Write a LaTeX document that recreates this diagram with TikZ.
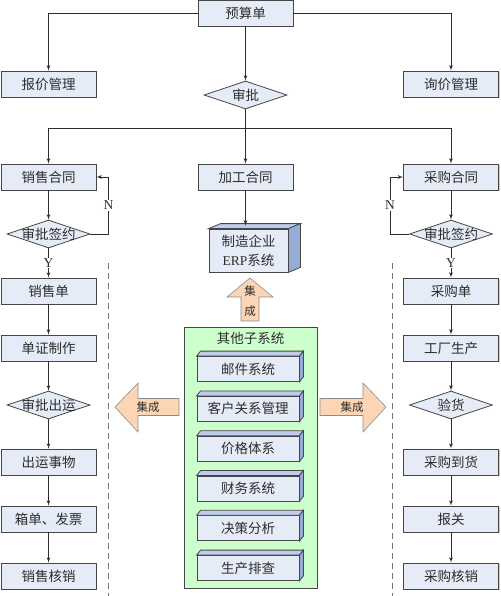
\documentclass[tikz,border=0pt]{standalone}
\usepackage{fontspec}
\setmainfont{Liberation Serif}
\newfontfamily\cjk{Noto Sans CJK SC}
\usetikzlibrary{arrows,shapes.geometric,shadows}

\definecolor{boxfill}{RGB}{229,235,247}
\definecolor{boxline}{RGB}{70,70,70}
\definecolor{facetop}{RGB}{190,205,235}
\definecolor{faceside}{RGB}{150,172,215}
\definecolor{subgreen}{RGB}{204,255,204}
\definecolor{peach}{RGB}{252,213,181}
\definecolor{peachline}{RGB}{140,140,140}
\definecolor{ink}{RGB}{45,45,45}

\newcommand{\boxfont}{\cjk\fontsize{13.5}{15}\selectfont}

\begin{document}
\begin{tikzpicture}[x=1pt,y=-1pt,->,>=latex',line width=0.8pt,color=ink,node distance=57pt,
  box/.style={rectangle,draw=boxline,fill=boxfill,text=ink,minimum width=95pt,minimum height=26pt,
    inner sep=0pt,font=\boxfont,drop shadow={shadow xshift=1pt,shadow yshift=-1pt,fill=black!40}},
  decide/.style={diamond,draw=boxline,fill=boxfill,minimum width=83pt,minimum height=28pt,inner sep=0pt},
  every label/.style={font=\boxfont,text=ink,inner sep=0pt},
  yn/.style={fill=white,inner sep=1pt,text=ink,font=\fontsize{13.5}{15}\selectfont},
  erpbox/.style={rectangle,draw=boxline,fill=boxfill,text=ink,minimum width=79pt,minimum height=43pt,
    inner sep=0pt,align=center,font=\cjk\fontsize{13.5}{19}\selectfont},
  subbox/.style={rectangle,draw=boxline,fill=boxfill,text=ink,minimum width=102pt,minimum height=25pt,
    inner sep=0pt,font=\boxfont,node distance=39.8pt},
  othersbox/.style={rectangle,draw=boxline,fill=subgreen,minimum width=133pt,minimum height=261pt},
  bigarrow/.style={-,draw=peachline,fill=peach,line width=0.6pt},
  arrowtext/.style={text=ink,inner sep=0pt,font=\cjk\fontsize{11.5}{20}\selectfont,align=center},
  dashline/.style={-,draw=black!55,dash pattern=on 6pt off 4pt,line width=0.8pt}]

 \useasboundingbox (0,0) rectangle (500,596);

 % top part
 \node[box] (budget)  at (245.5,13) {预算单};
 \node[box] (quote)   at (48.5,84)  {报价管理};
 \node[box] (inquiry) at (451,84)   {询价管理};
 \node[decide,label=center:审批] (approve) at (245.5,95) {};
 \coordinate (split) at (245.5,128);

 \node[box] (sales)    at (48.5,177)  {销售合同};
 \node[box] (process)  at (245.5,177) {加工合同};
 \node[box] (purchase) at (451,177)   {采购合同};

 % sales column
 \node[decide,label=center:审批签约] (signL) [below of=sales] {};
 \node[box] (salesorder) [below of=signL]      {销售单};
 \node[box] (docs)       [below of=salesorder] {单证制作};
 \node[decide,label=center:审批出运] (shipok) [below of=docs] {};
 \node[box] (shipping)   [below of=shipok]     {出运事物};
 \node[box] (packing)    [below of=shipping]   {箱单、发票};
 \node[box] (salescheck) [below of=packing]    {销售核销};

 % purchase column
 \node[decide,label=center:审批签约] (signR) [below of=purchase] {};
 \node[box] (purchaseorder) [below of=signR]         {采购单};
 \node[box] (factory)       [below of=purchaseorder] {工厂生产};
 \node[decide,label=center:验货] (inspect) [below of=factory] {};
 \node[box] (arrival)       [below of=inspect]       {采购到货};
 \node[box] (customs)       [below of=arrival]       {报关};
 \node[box] (purchasecheck) [below of=customs]       {采购核销};

 % ERP box
 \node[erpbox] (erp) at (248.5,250.5) {制造企业\\{\rmfamily ERP}系统};
 \filldraw[-,draw=boxline,fill=facetop] (erp.north west) -- ++(12,-5) -- ([shift={(12,-5)}]erp.north east) -- (erp.north east) -- cycle;
 \filldraw[-,draw=boxline,fill=faceside] (erp.north east) -- ++(12,-5) -- ([shift={(12,-5)}]erp.south east) -- (erp.south east) -- cycle;
 \coordinate (erptop) at ([yshift=3pt]erp.north);

 % other subsystems
 \node[othersbox] (others) at (250.5,457.5) {};
 \node[text=ink,font=\boxfont] (otherstitle) at (250.5,338) {其他子系统};
 \node[subbox] (mail) at (248,369) {邮件系统};
 \node[subbox,below of=mail]     (crm)      {客户关系管理};
 \node[subbox,below of=crm]      (price)    {价格体系};
 \node[subbox,below of=price]    (finance)  {财务系统};
 \node[subbox,below of=finance]  (decision) {决策分析};
 \node[subbox,below of=decision] (plan)     {生产排查};
 \foreach \n in {mail,crm,price,finance,decision,plan}{
   \filldraw[-,draw=boxline,fill=facetop] (\n.north west) -- ++(4,-5) -- ([shift={(4,-5)}]\n.north east) -- (\n.north east) -- cycle;
   \filldraw[-,draw=boxline,fill=faceside] (\n.north east) -- ++(4,-5) -- ([shift={(4,-5)}]\n.south east) -- (\n.south east) -- cycle;
 }

 % integration arrows
 \filldraw[bigarrow] (250,278) -- (273,297) -- (259,297) -- (259,321) -- (241,321) -- (241,297) -- (227,297) -- cycle;
 \node[arrowtext] (toerp) at (250,301) {集\\成};
 \filldraw[bigarrow] (115,407) -- (138,383) -- (138,398.5) -- (179,398.5) -- (179,415.5) -- (138,415.5) -- (138,432) -- cycle;
 \node[arrowtext] (tosales) at (148,407) {集成};
 \filldraw[bigarrow] (386,407) -- (363,383) -- (363,398.5) -- (320,398.5) -- (320,415.5) -- (363,415.5) -- (363,432) -- cycle;
 \node[arrowtext] (topurchase) at (352,407) {集成};

 % dashed separators
 \draw[dashline] (108,263) -- (108,596);
 \draw[dashline] (392,263) -- (392,596);

 % connectors
 \draw (budget.west) -| (quote);
 \draw (budget.east) -| (inquiry);
 \draw (budget) -- (approve);
 \draw[-] (approve) -- (split);
 \draw (split) -| (sales);
 \draw (split) -| (purchase);
 \draw (split) -- (process);
 \draw (process) -- (process |- erptop);

 \path (sales)      edge (signL)
       (signL)      edge node[yn] {Y} (salesorder)
       (salesorder) edge (docs)
       (docs)       edge (shipok)
       (shipok)     edge (shipping)
       (shipping)   edge (packing)
       (packing)    edge (salescheck);
 \draw (signL.east) -- ++(18,0) |- node[yn,pos=0.25] {N} (sales.east);

 \path (purchase)      edge (signR)
       (signR)         edge node[yn] {Y} (purchaseorder)
       (purchaseorder) edge (factory)
       (factory)       edge (inspect)
       (inspect)       edge (arrival)
       (arrival)       edge (customs)
       (customs)       edge (purchasecheck);
 \draw (signR.west) -- ++(-19,0) |- node[yn,pos=0.25] {N} (purchase.west);
\end{tikzpicture}
\end{document}
